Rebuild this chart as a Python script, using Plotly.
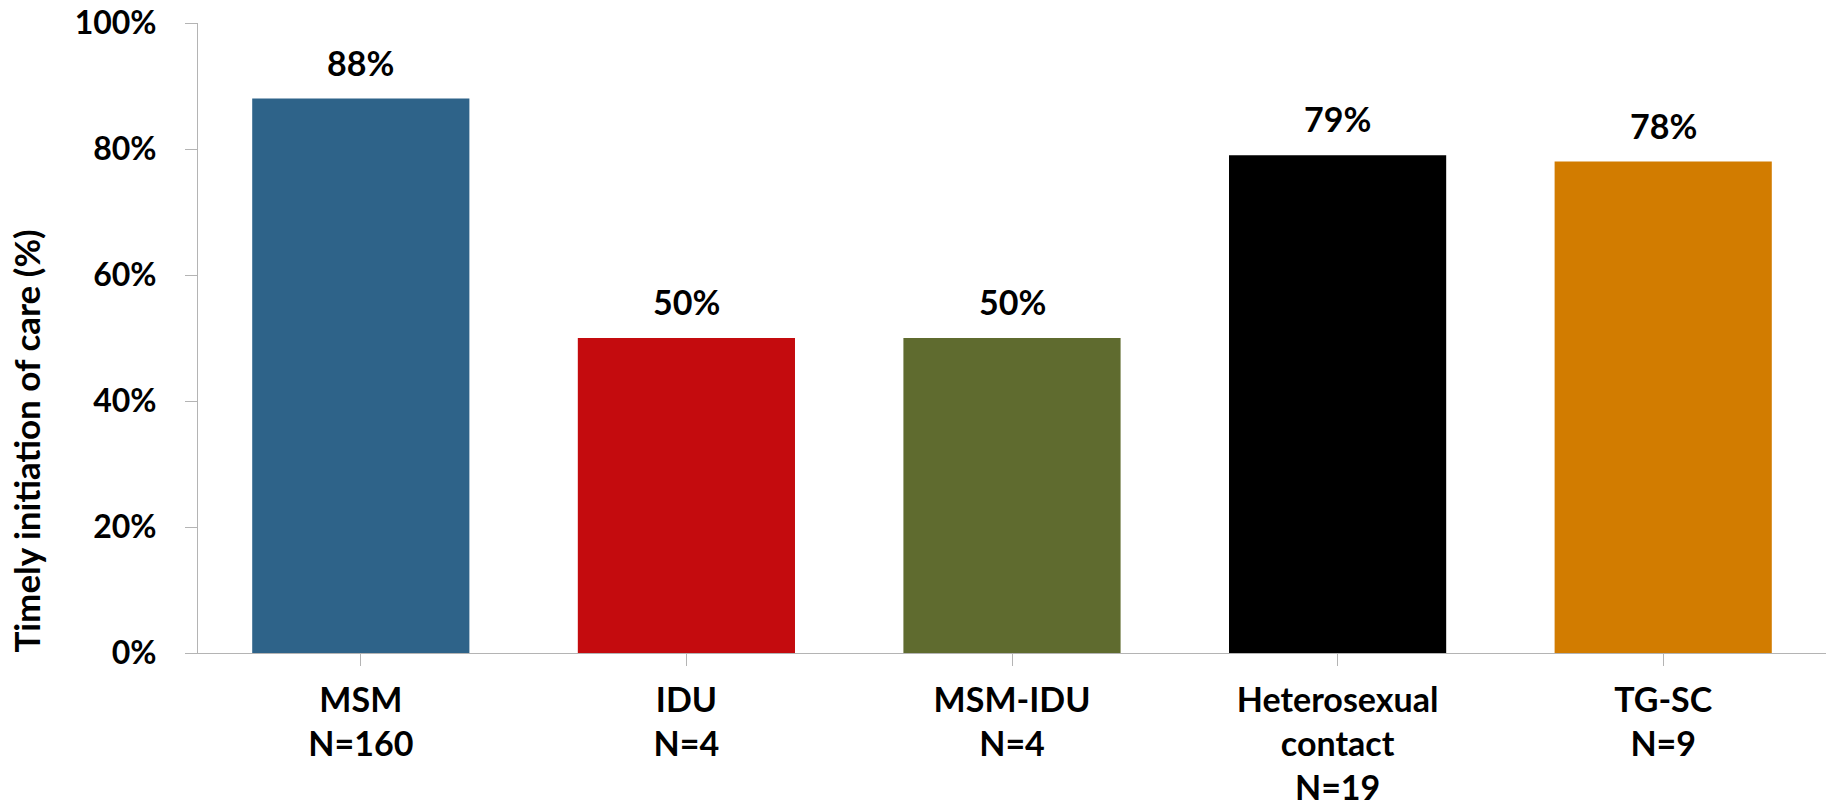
import plotly.graph_objects as go

# Timely initiation of care by transmission category
categories = ["MSM", "IDU", "MSM-IDU", "Heterosexual<br>contact", "TG-SC"]
sample_sizes = [160, 4, 4, 19, 9]
timely_pct = [88, 50, 50, 79, 78]
bar_colors = ["#2E6389", "#C40B0E", "#5F6B2F", "#000000", "#D27C00"]
y_ticks = [0, 20, 40, 60, 80, 100]

LABEL_FONT = "Lato, Liberation Sans, sans-serif"
AXIS_GREY = "#B4B4B4"

tick_text = [f"<b>{c}<br>N={n}</b>" for c, n in zip(categories, sample_sizes)]

fig = go.Figure()
fig.add_trace(go.Bar(
    x=list(range(len(categories))),
    y=timely_pct,
    marker=dict(color=bar_colors, line=dict(width=0)),
    width=0.667,
    hoverinfo="skip",
))

# value labels above each bar
for i, v in enumerate(timely_pct):
    fig.add_annotation(
        x=i, y=v, xref="x", yref="y",
        text=f"<b>{v}%</b>",
        showarrow=False, yanchor="bottom", yshift=14,
        font=dict(family=LABEL_FONT, size=34, color="#000000"),
    )

# y-axis title
fig.add_annotation(
    x=-0.1057, y=0.337, xref="paper", yref="paper",
    text="<b>Timely initiation of care (%)</b>",
    textangle=-90, showarrow=False,
    xanchor="center", yanchor="middle",
    font=dict(family=LABEL_FONT, size=35, color="#000000"),
)

fig.update_layout(
    width=1830, height=807,
    margin=dict(l=198, r=4, t=23, b=153.5, pad=0),
    plot_bgcolor="white", paper_bgcolor="white",
    showlegend=False,
    bargap=0.333,
)
fig.update_xaxes(
    tickmode="array",
    tickvals=list(range(len(categories))),
    ticktext=tick_text,
    range=[-0.5, len(categories) - 0.5],
    tickson="boundaries",
    ticks="outside", ticklen=12, tickcolor=AXIS_GREY, tickwidth=1,
    showline=True, linecolor=AXIS_GREY, linewidth=1,
    showgrid=False, zeroline=False,
    tickfont=dict(family=LABEL_FONT, size=34, color="#000000"),
    ticklabelstandoff=5,
    automargin=False,
)
fig.update_yaxes(
    range=[0, 100],
    tickmode="array",
    tickvals=y_ticks,
    ticktext=[f"<b>{t}%</b>" for t in y_ticks],
    ticks="outside", ticklen=12, tickcolor=AXIS_GREY, tickwidth=1,
    showline=True, linecolor=AXIS_GREY, linewidth=1,
    showgrid=False, zeroline=False,
    tickfont=dict(family=LABEL_FONT, size=32, color="#000000"),
    ticklabelstandoff=22,
    automargin=False,
)

fig.write_html("out.html")
